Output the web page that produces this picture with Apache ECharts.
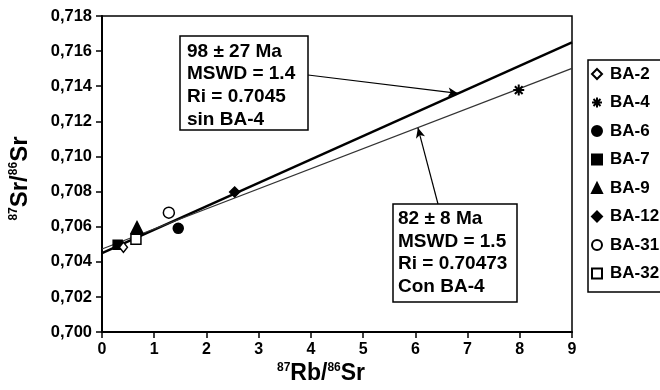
<!DOCTYPE html>
<html><head><meta charset="utf-8">
<script src="https://cdn.jsdelivr.net/npm/echarts@6/dist/echarts.min.js"></script>
<style>html,body{margin:0;padding:0;background:#fff}#c{width:660px;height:390px}</style>
</head><body><div id="c"></div>
<script>
// ---- data ----
const sampleNames = ['BA-2', 'BA-4', 'BA-6', 'BA-7', 'BA-9', 'BA-12', 'BA-31', 'BA-32'];
const rbSr = [0.41, 7.98, 1.46, 0.30, 0.67, 2.54, 1.28, 0.65];
const srSr = [0.70483, 0.71378, 0.70591, 0.70498, 0.70595, 0.70798, 0.70680, 0.70529];
const isochronSinBA4 = [[0, 0.7045], [9, 0.7165]];
const isochronConBA4 = [[0, 0.70473], [9, 0.71502]];
const xTickLabels = ['0', '1', '2', '3', '4', '5', '6', '7', '8', '9'];
const yTickLabels = ['0,700', '0,702', '0,704', '0,706', '0,708', '0,710', '0,712', '0,714', '0,716', '0,718'];
const annotSin = ['98 \u00b1 27 Ma', 'MSWD = 1.4', 'Ri = 0.7045', 'sin BA-4'];
const annotCon = ['82 \u00b1 8 Ma', 'MSWD = 1.5', 'Ri = 0.70473', 'Con BA-4'];
const arrowSinTip = [6.82, 0.71359];
const arrowConTip = [6.05, 0.71163];

// ---- styles ----
const FONT = '"Liberation Sans", Arial, Helvetica, sans-serif';
const ASTERISK = 'path://M5,0L5,10M0,5L10,5M1.5,1.5L8.5,8.5M8.5,1.5L1.5,8.5';
const markerStyles = {
  'BA-2':  { symbol: 'diamond', size: [8, 10], fill: '#fff', z: 6 },
  'BA-4':  { symbol: ASTERISK, size: 11, fill: '#000', z: 5 },
  'BA-6':  { symbol: 'circle', size: 10, fill: '#000', z: 5 },
  'BA-7':  { symbol: 'rect', size: 9, fill: '#000', z: 5 },
  'BA-9':  { symbol: 'triangle', size: 12, fill: '#000', z: 5 },
  'BA-12': { symbol: 'diamond', size: 10, fill: '#000', z: 5 },
  'BA-31': { symbol: 'circle', size: 11, fill: '#fff', z: 5 },
  'BA-32': { symbol: 'rect', size: 10, fill: '#fff', z: 6 }
};

const chart = echarts.init(document.getElementById('c'), null, { renderer: 'canvas' });

const sampleSeries = sampleNames.map((name, i) => {
  const st = markerStyles[name];
  return {
    name: name,
    type: 'scatter',
    data: [[rbSr[i], srSr[i]]],
    symbol: st.symbol,
    symbolSize: st.size,
    z: st.z,
    itemStyle: { color: st.fill, borderColor: '#000', borderWidth: st.symbol === ASTERISK ? 2 : 1.5, opacity: 1 },
    emphasis: { disabled: true }
  };
});

const arrowLine = { color: '#000', width: 1.2, type: 'solid' };
const titleRich = {
  s: { fontSize: 12, fontWeight: 'bold', fontFamily: FONT, color: '#000', verticalAlign: 'top', lineHeight: 13 },
  m: { fontSize: 24, fontWeight: 'bold', fontFamily: FONT, color: '#000', lineHeight: 24 }
};
const titleRichX = {
  s: { fontSize: 12, fontWeight: 'bold', fontFamily: FONT, color: '#000', verticalAlign: 'top', lineHeight: 13 },
  m: { fontSize: 23, fontWeight: 'bold', fontFamily: FONT, color: '#000', lineHeight: 23 }
};

const option = {
  animation: false,
  backgroundColor: '#fff',
  grid: { left: 102, top: 16, width: 470, height: 320, show: true, borderColor: '#000', borderWidth: 1.5, backgroundColor: 'transparent' },
  xAxis: {
    type: 'value', min: 0, max: 9, interval: 1,
    axisLine: { show: true, onZero: false, lineStyle: { color: '#000', width: 2 } },
    axisTick: { show: true, length: 6, inside: false, lineStyle: { color: '#000', width: 1.5 } },
    splitLine: { show: false },
    axisLabel: { margin: 9, color: '#000', fontSize: 16, fontWeight: 'bold', fontFamily: FONT,
      formatter: (v, i) => xTickLabels[i] },
    name: '{s|87}{m|Rb/}{s|86}{m|Sr}',
    nameLocation: 'middle', nameGap: 27,
    nameTextStyle: { padding: [0, 32, 0, 0], rich: titleRichX }
  },
  yAxis: {
    type: 'value', min: 0.700, max: 0.718, interval: 0.002,
    axisLine: { show: true, onZero: false, lineStyle: { color: '#000', width: 2 } },
    axisTick: { show: true, length: 6, inside: false, lineStyle: { color: '#000', width: 1.5 } },
    splitLine: { show: false },
    axisLabel: { margin: 10, color: '#000', fontSize: 16.5, fontWeight: 'bold', fontFamily: FONT,
      formatter: (v, i) => yTickLabels[i] },
    name: '{s|87}{m|Sr/}{s|86}{m|Sr}',
    nameLocation: 'middle', nameGap: 70, nameRotate: 90,
    nameTextStyle: { padding: [0, 9, 0, 0], rich: titleRich }
  },
  legend: {
    orient: 'vertical', left: 588, top: 60,
    data: sampleNames,
    itemWidth: 10, itemHeight: 10, itemGap: 11.5,
    padding: [5.5, 6, 10, 3],
    borderColor: '#000', borderWidth: 1.5, backgroundColor: '#fff',
    selectedMode: false,
    textStyle: { color: '#000', fontSize: 17, lineHeight: 17, fontWeight: 'bold', fontFamily: FONT, padding: [0, 0, 0, 3] }
  },
  graphic: [
    { type: 'rect', z: 100, shape: { x: 180, y: 36, width: 128, height: 94 }, style: { fill: '#fff', stroke: '#000', lineWidth: 1.5 } },
    { type: 'text', z: 101, x: 187, y: 40, style: { text: annotSin.join('\n'), fontSize: 19, fontWeight: 'bold', fontFamily: FONT, lineHeight: 22.7, fill: '#000' } },
    { type: 'rect', z: 100, shape: { x: 393, y: 204, width: 124, height: 98 }, style: { fill: '#fff', stroke: '#000', lineWidth: 1.5 } },
    { type: 'text', z: 101, x: 398, y: 208, style: { text: annotCon.join('\n'), fontSize: 19, fontWeight: 'bold', fontFamily: FONT, lineHeight: 22.5, fill: '#000' } }
  ],
  series: [
    {
      name: 'sin BA-4', type: 'line', data: isochronSinBA4, symbol: 'none', z: 2,
      lineStyle: { color: '#000', width: 2.4 }, emphasis: { disabled: true },
      markLine: {
        silent: true, animation: false, z: 7,
        lineStyle: arrowLine, label: { show: false }, emphasis: { disabled: true },
        data: [[{ x: 308, y: 75, symbol: 'none' }, { coord: arrowSinTip, symbol: 'arrow', symbolSize: [7, 10] }]]
      }
    },
    {
      name: 'con BA-4', type: 'line', data: isochronConBA4, symbol: 'none', z: 2,
      lineStyle: { color: '#333', width: 1.2 }, emphasis: { disabled: true },
      markLine: {
        silent: true, animation: false, z: 7,
        lineStyle: arrowLine, label: { show: false }, emphasis: { disabled: true },
        data: [[{ x: 438, y: 204, symbol: 'none' }, { coord: arrowConTip, symbol: 'arrow', symbolSize: [7, 10] }]]
      }
    }
  ].concat(sampleSeries)
};
chart.setOption(option);
</script>
</body></html>
